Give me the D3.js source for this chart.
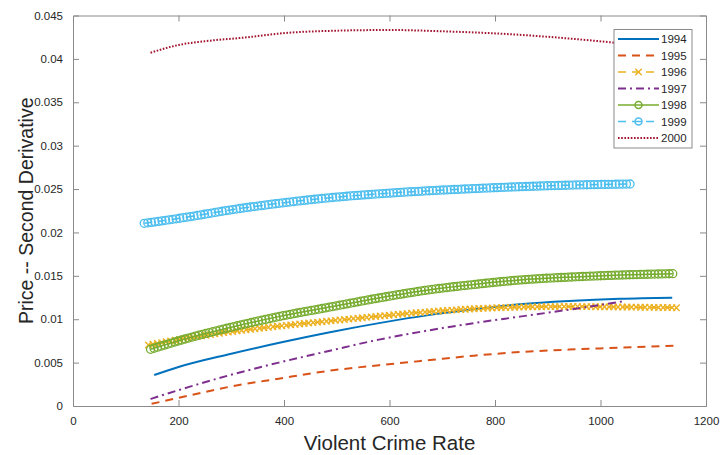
<!DOCTYPE html>
<html>
<head>
<meta charset="utf-8">
<script src="https://cdn.jsdelivr.net/npm/d3@7"></script>
<style>
  html, body { margin: 0; padding: 0; background: #fff; }
  svg { display: block; font-family: "Liberation Sans", Arial, Helvetica, sans-serif; }
</style>
</head>
<body>
<svg id="chart" width="721" height="455"></svg>
<script>
// ---- data ----
const xTicks = [0, 200, 400, 600, 800, 1000, 1200];
const yTicks = [0, 0.005, 0.01, 0.015, 0.02, 0.025, 0.03, 0.035, 0.04, 0.045];
const yTickLabels = ["0", "0.005", "0.01", "0.015", "0.02", "0.025", "0.03", "0.035", "0.04", "0.045"];

const years = ["1994", "1995", "1996", "1997", "1998", "1999", "2000"];

const x1994 = [154, 200, 298, 400, 487, 580, 677, 760, 847, 940, 1037, 1136];
const y1994 = [0.00357, 0.00450, 0.00600, 0.00740, 0.00850, 0.00955, 0.01050, 0.01115, 0.01172, 0.01210, 0.01236, 0.01248];

const x1995 = [149, 220, 298, 390, 487, 580, 677, 760, 847, 940, 1037, 1144];
const y1995 = [0.00025, 0.00120, 0.00223, 0.00315, 0.00407, 0.00470, 0.00530, 0.00580, 0.00622, 0.00650, 0.00672, 0.00695];

const x1996 = [143, 220, 298, 390, 487, 580, 677, 760, 847, 940, 1037, 1144];
const y1996 = [0.00703, 0.00785, 0.00855, 0.00920, 0.00980, 0.01035, 0.01087, 0.01120, 0.01140, 0.01146, 0.01141, 0.01133];

const x1997 = [147, 220, 298, 390, 487, 580, 677, 760, 847, 940, 1043];
const y1997 = [0.00081, 0.00220, 0.00357, 0.00500, 0.00637, 0.00765, 0.00874, 0.00955, 0.01030, 0.01110, 0.01206];

const x1998 = [147, 220, 298, 390, 487, 580, 677, 760, 847, 940, 1037, 1137];
const y1998 = [0.00653, 0.00785, 0.00905, 0.01030, 0.01140, 0.01245, 0.01340, 0.01400, 0.01452, 0.01485, 0.01509, 0.01525];

const x1999 = [135, 220, 298, 390, 487, 580, 677, 760, 847, 940, 1056];
const y1999 = [0.02105, 0.02180, 0.02259, 0.02335, 0.02400, 0.02445, 0.02481, 0.02505, 0.02527, 0.02545, 0.02558];

const x2000 = [147, 200, 260, 322, 408, 500, 600, 700, 821, 920, 1021, 1140];
const y2000 = [0.04071, 0.04160, 0.04210, 0.04244, 0.04301, 0.04325, 0.04333, 0.04318, 0.04287, 0.04245, 0.04190, 0.04110];

const colors = ["#0072BD", "#D95319", "#EDB120", "#7E2F8E", "#77AC30", "#4DBEEE", "#A2142F"];
const dashes = [null, "8,6", "8,6", "8,4,2,4", null, "8,6", "1.6,1.6"];
const markers = [null, null, "x", null, "o", "o", null];
const markerGap = [0, 0, 4.5, 0, 3.6, 3.6, 0];

const seriesX = [x1994, x1995, x1996, x1997, x1998, x1999, x2000];
const seriesY = [y1994, y1995, y1996, y1997, y1998, y1999, y2000];

// ---- layout ----
const svg = d3.select("#chart");
const L = 73, T = 15.5, R = 706, B = 406;
const x = d3.scaleLinear().domain([0, 1200]).range([L, R]);
const y = d3.scaleLinear().domain([0, 0.045]).range([B, T]);
const axisColor = "#8a8a8a";
const textColor = "#262626";

// axes
const gx = svg.append("g").attr("transform", `translate(0,${B})`)
  .call(d3.axisBottom(x).tickValues(xTicks).tickSize(-6).tickPadding(11).tickFormat(d3.format("d")));
const gxt = svg.append("g").attr("transform", `translate(0,${T})`)
  .call(d3.axisTop(x).tickValues(xTicks).tickSize(-6).tickFormat(""));
const gy = svg.append("g").attr("transform", `translate(${L},0)`)
  .call(d3.axisLeft(y).tickValues(yTicks).tickSize(-6).tickPadding(10).tickFormat((d, i) => yTickLabels[i]));
const gyr = svg.append("g").attr("transform", `translate(${R},0)`)
  .call(d3.axisRight(y).tickValues(yTicks).tickSize(-6).tickFormat(""));

[gx, gxt, gy, gyr].forEach(g => {
  g.select(".domain").attr("stroke", axisColor).attr("stroke-width", 1);
  g.selectAll(".tick line").attr("stroke", axisColor);
  g.selectAll(".tick text").attr("fill", textColor).style("font-size", "11.5px")
    .style("font-family", "'Liberation Sans', Arial, sans-serif");
});
gx.selectAll(".tick line").filter(d => d === 0 || d === 1200).remove();
gxt.selectAll(".tick line").filter(d => d === 0 || d === 1200).remove();
gy.selectAll(".tick line").filter(d => d === 0 || d === 0.045).remove();
gyr.selectAll(".tick line").filter(d => d === 0 || d === 0.045).remove();

// axis titles
svg.append("text").attr("x", (L + R) / 2).attr("y", 450).attr("text-anchor", "middle")
  .attr("fill", textColor).style("font-size", "20.5px").text("Violent Crime Rate");
svg.append("text").attr("transform", `translate(32.5,${(T + B) / 2}) rotate(-90)`)
  .attr("text-anchor", "middle").attr("fill", textColor).style("font-size", "19.5px")
  .text("Price -- Second Derivative");

// clip
svg.append("clipPath").attr("id", "clip").append("rect")
  .attr("x", L).attr("y", T).attr("width", R - L).attr("height", B - T);

const plot = svg.append("g").attr("clip-path", "url(#clip)");
const line = d3.line().x(d => x(d[0])).y(d => y(d[1])).curve(d3.curveMonotoneX);

function drawMarker(g, kind, px, py, color) {
  if (kind === "o") {
    g.append("circle").attr("cx", px).attr("cy", py).attr("r", 4)
      .attr("fill", "none").attr("stroke", color).attr("stroke-width", 1.3);
  } else if (kind === "x") {
    const s = 3.2;
    g.append("path").attr("d", `M${px - s},${py - s}L${px + s},${py + s}M${px - s},${py + s}L${px + s},${py - s}`)
      .attr("fill", "none").attr("stroke", color).attr("stroke-width", 1.4);
  }
}

// draw series
years.forEach((yr, i) => {
  const pts = seriesX[i].map((xv, j) => [xv, seriesY[i][j]]);
  const path = plot.append("path").datum(pts)
    .attr("d", line)
    .attr("fill", "none")
    .attr("stroke", colors[i])
    .attr("stroke-width", markers[i] ? 1.5 : 2)
    .attr("stroke-dasharray", dashes[i]);
  if (markers[i]) {
    const node = path.node();
    const total = node.getTotalLength();
    const gm = plot.append("g");
    const n = Math.max(1, Math.round(total / markerGap[i]));
    const step = total / n;
    for (let k = 0; k <= n; k++) {
      const p = node.getPointAtLength(Math.min(total, k * step));
      drawMarker(gm, markers[i], p.x, p.y, colors[i]);
    }
  }
});

// legend
const lg = svg.append("g");
const lx = 614, ly = 29.5, lw = 78, lh = 118.5;
lg.append("rect").attr("x", lx).attr("y", ly).attr("width", lw).attr("height", lh)
  .attr("fill", "#fff").attr("stroke", axisColor).attr("stroke-width", 1);
years.forEach((yr, i) => {
  const cy = ly + 9.5 + i * 16.5;
  lg.append("line").attr("x1", lx + 4).attr("x2", lx + 45).attr("y1", cy).attr("y2", cy)
    .attr("stroke", colors[i]).attr("stroke-width", markers[i] ? 1.5 : 2)
    .attr("stroke-dasharray", dashes[i]);
  if (markers[i]) {
    const gm = lg.append("g");
    if (markers[i] === "o") {
      gm.append("circle").attr("cx", lx + 24.5).attr("cy", cy).attr("r", 3.5)
        .attr("fill", "#fff").attr("stroke", colors[i]).attr("stroke-width", 1.5);
      gm.append("line").attr("x1", lx + 21).attr("x2", lx + 28).attr("y1", cy).attr("y2", cy)
        .attr("stroke", colors[i]).attr("stroke-width", 1.5);
    } else {
      drawMarker(gm, "x", lx + 24.5, cy, colors[i]);
    }
  }
  lg.append("text").attr("x", lx + 47).attr("y", cy + 4).attr("fill", textColor)
    .style("font-size", "11.5px").text(yr);
});
</script>
</body>
</html>
